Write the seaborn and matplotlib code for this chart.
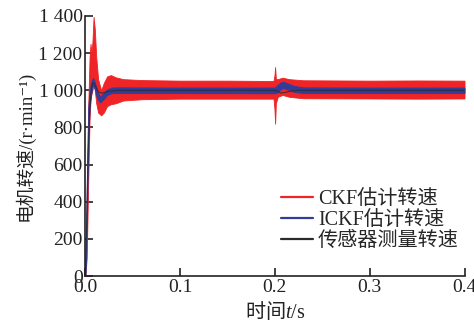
import numpy as np
import pandas as pd
import matplotlib
matplotlib.use("Agg")
import matplotlib.pyplot as plt
from matplotlib.lines import Line2D
import seaborn as sns

# CKF estimate: band envelope (upper / lower), r/min
t_red = [0.0, 0.0015, 0.003, 0.0045, 0.0055, 0.0065, 0.0075, 0.0087, 0.0100, 0.0115,
         0.0135, 0.0167, 0.0195, 0.0230, 0.0270, 0.0320, 0.0400, 0.0600, 0.1000, 0.1500,
         0.1985, 0.1995, 0.2002, 0.2010, 0.2030, 0.2080, 0.2150, 0.2300, 0.3000, 0.3500, 0.4000]
red_hi = [0, 350, 900, 1180, 1250, 1200, 1260, 1395, 1330, 1180,
          1060, 1000, 1040, 1075, 1082, 1070, 1060, 1055, 1052, 1052,
          1050, 1080, 1125, 1060, 1060, 1068, 1060, 1054, 1052, 1053, 1052]
red_lo = [0, 100, 500, 850, 950, 980, 1000, 1040, 1000, 930,
          880, 865, 880, 915, 925, 930, 945, 952, 955, 955,
          955, 900, 820, 930, 965, 975, 965, 957, 956, 955, 956]

# ICKF estimate: band envelope (upper / lower)
t_blue = [0.0, 0.0015, 0.003, 0.0045, 0.0060, 0.0080, 0.0100, 0.0125, 0.0157, 0.0190,
          0.0230, 0.0280, 0.0350, 0.1000, 0.2000, 0.2030, 0.2060, 0.2090, 0.2130, 0.2200,
          0.2300, 0.3000, 0.4000]
blue_hi = [0, 500, 900, 1000, 1040, 1068, 1045, 995, 965, 985,
           1005, 1015, 1016, 1015, 1015, 1030, 1042, 1046, 1038, 1024,
           1016, 1015, 1015]
blue_lo = [0, 250, 700, 900, 975, 1030, 1005, 955, 935, 950,
           975, 985, 985, 985, 984, 990, 1006, 1012, 1005, 992,
           985, 985, 985]

# sensor measurement
t_sens = [0.0, 0.0015, 0.003, 0.0045, 0.006, 0.0075, 0.009, 0.011, 0.014, 0.018,
          0.025, 0.035, 0.2, 0.2025, 0.206, 0.210, 0.216, 0.225, 0.4]
v_sens = [0, 300, 650, 880, 990, 1035, 1040, 1020, 990, 985,
          995, 1000, 1000, 996, 986, 988, 995, 1000, 1000]

labels = ["CKF估计转速", "ICKF估计转速", "传感器测量转速"]
colors = ["#ee2426", "#343c9a", "#2b2b2b"]
fams = ["Liberation Serif", "Noto Sans CJK SC", "DejaVu Serif"]

sns.set_theme(style="ticks")
plt.rcParams["font.family"] = fams
plt.rcParams["axes.unicode_minus"] = False
plt.rcParams["mathtext.fontset"] = "custom"
plt.rcParams["mathtext.rm"] = "Liberation Serif"
plt.rcParams["mathtext.it"] = "Liberation Serif:italic"

fig = plt.figure(figsize=(4.74, 3.26), dpi=100)
ax = fig.add_axes([0.180, 0.153, 0.800, 0.798])

ax.fill_between(t_red, red_lo, red_hi, color=colors[0], lw=0.6, edgecolor=colors[0])
ax.fill_between(t_blue, blue_lo, blue_hi, color=colors[1], lw=0.6, edgecolor=colors[1])
sens = pd.DataFrame({"t": t_sens, "v": v_sens})
sns.lineplot(data=sens, x="t", y="v", color=colors[2], lw=0.8, alpha=0.8, ax=ax)

ax.set_xlim(0, 0.4)
ax.set_ylim(0, 1400)
ax.set_xticks([0.0, 0.1, 0.2, 0.3, 0.4])
ax.set_xticklabels(["0.0", "0.1", "0.2", "0.3", "0.4"])
yt = [0, 200, 400, 600, 800, 1000, 1200, 1400]
ax.set_yticks(yt)
ax.set_yticklabels(["0", "200", "400", "600", "800", "1 000", "1 200", "1 400"])
ax.tick_params(direction="in", length=6, width=1.2, labelsize=14, colors="#222222", pad=2)
sns.despine(ax=ax)
for s in ["left", "bottom"]:
    ax.spines[s].set_linewidth(1.2)
    ax.spines[s].set_color("#222222")

# non-math part uses the CJK font, t/s goes through mathtext (serif)
ax.set_xlabel(r"时间$t/\mathrm{s}$", family="Noto Sans CJK SC", fontsize=14.5,
              labelpad=3, color="#222222")
ax.set_ylabel("电机转速/(r·min⁻¹)", fontsize=13.5, labelpad=3, color="#222222")

handles = [Line2D([], [], color=c, lw=1.6) for c in colors]
ax.legend(handles, labels, loc="lower right", bbox_to_anchor=(0.985, 0.095),
          frameon=False, fontsize=14.5, handlelength=1.6, handletextpad=0.25,
          labelspacing=0.1, borderpad=0, borderaxespad=0)

fig.savefig("out.png", dpi=100)
